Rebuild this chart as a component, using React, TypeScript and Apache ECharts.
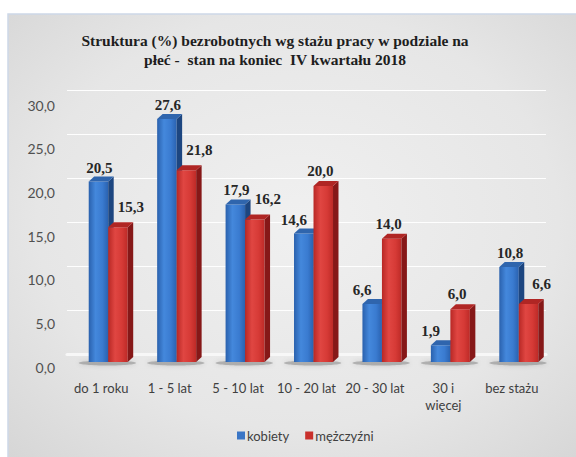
import React, { useEffect, useRef } from "react";
import * as echarts from "echarts";

const categories = ["do 1 roku", "1 - 5 lat", "5 - 10 lat", "10 - 20 lat", "20 - 30 lat", "30 i więcej", "bez stażu"];
const kobiety = [20.5, 27.6, 17.9, 14.6, 6.6, 1.9, 10.8];
const mezczyzni = [15.3, 21.8, 16.2, 20.0, 14.0, 6.0, 6.6];
const seriesNames = ["kobiety", "mężczyźni"];
const yMin = 0;
const yMax = 30;
const yStep = 5;
const titleText = "Struktura (%) bezrobotnych wg stażu pracy w podziale na\npłeć -  stan na koniec  IV kwartału 2018";

const fmt = (v: number) => v.toFixed(1).replace(".", ",");

const palettes = [
  {
    legend: "#3a76c6",
    front: ["#2a61ad", "#4488dc", "#3a7bd0", "#2a62b0"],
    side: "#1d4680",
    top: "#2f65ad",
  },
  {
    legend: "#c9302c",
    front: ["#b82825", "#e04642", "#d63a36", "#bd2a27"],
    side: "#861818",
    top: "#b02624",
  },
];

function makeRender(sIdx: number) {
  const own = sIdx === 0 ? kobiety : mezczyzni;
  const other = sIdx === 0 ? mezczyzni : kobiety;
  const pal = palettes[sIdx];
  return (params: any, api: any) => {
    const idx = api.value(0);
    const v = api.value(1);
    const base = api.coord([idx, 0]);
    const topPt = api.coord([idx, v]);
    const band = api.size([1, 0])[0];
    const FRONT = 8;
    const baseY = base[1] + FRONT;
    const topY = topPt[1] + FRONT;
    const w = band * 0.285;
    const x0 = base[0] - band * 0.1825 + sIdx * w;
    const x1 = x0 + w;
    const dx = band * 0.08;
    const dy = 5;
    const children: any[] = [];
    if (sIdx === 0) {
      children.push({
        type: "ellipse",
        shape: { cx: base[0] + band * 0.09, cy: baseY + 1, rx: band * 0.42, ry: 2.5 },
        style: { fill: "rgba(90,90,90,0.35)", shadowBlur: 5, shadowColor: "rgba(0,0,0,0.4)" },
        silent: true,
      });
    }
    children.push({
      type: "rect",
      shape: { x: x0, y: topY, width: w, height: baseY - topY },
      style: {
        fill: {
          type: "linear", x: 0, y: 0, x2: 1, y2: 0,
          colorStops: [
            { offset: 0, color: pal.front[0] },
            { offset: 0.35, color: pal.front[1] },
            { offset: 0.7, color: pal.front[2] },
            { offset: 1, color: pal.front[3] },
          ],
        },
      },
    });
    children.push({
      type: "polygon",
      shape: { points: [[x1, topY], [x1 + dx, topY - dy], [x1 + dx, baseY - dy], [x1, baseY]] },
      style: { fill: pal.side },
    });
    children.push({
      type: "polygon",
      shape: { points: [[x0, topY], [x1, topY], [x1 + dx, topY - dy], [x0 + dx, topY - dy]] },
      style: { fill: pal.top },
    });
    const cx = x0 + w / 2;
    const o = other[idx];
    let lx: number;
    let ly: number;
    if (sIdx === 0) {
      lx = cx + (v >= o ? 1 : -10);
      ly = topY - 14;
    } else {
      lx = cx + (v < o ? 13 : -3);
      ly = topY - (v < o ? 20 : 15);
    }
    children.push({
      type: "text",
      style: {
        text: fmt(own[idx]),
        x: lx,
        y: ly,
        align: "center",
        verticalAlign: "middle",
        fontFamily: "Liberation Serif",
        fontWeight: "bold",
        fontSize: 15,
        fill: "#262626",
      },
    });
    return { type: "group", children };
  };
}

export default function App() {
  const ref = useRef<HTMLDivElement>(null);
  useEffect(() => {
    if (!ref.current) return;
    const chart = echarts.init(ref.current, undefined, { renderer: "svg" });
    chart.setOption({
      animation: false,
      backgroundColor: "#ffffff",
      graphic: [
        {
          type: "rect",
          z: -100,
          silent: true,
          shape: { x: 8, y: 14, width: 580, height: 460 },
          style: {
            fill: {
              type: "radial", x: 0.5, y: 0.45, r: 0.75,
              colorStops: [
                { offset: 0, color: "#f0f0f0" },
                { offset: 0.6, color: "#e6e6e6" },
                { offset: 1, color: "#d4d4d4" },
              ],
            },
            stroke: "#cdd8e8",
            lineWidth: 1.5,
          },
        },
      ],
      title: {
        text: titleText,
        left: 270,
        top: 26,
        textAlign: "center",
        textStyle: {
          fontFamily: "Liberation Serif",
          fontWeight: "bold",
          fontSize: 15.5,
          color: "#1e1e1e",
          lineHeight: 19,
        },
      },
      legend: {
        data: seriesNames,
        left: 232,
        top: 424,
        icon: "rect",
        itemWidth: 8,
        itemHeight: 8,
        itemGap: 16,
        textStyle: { fontFamily: "Lato", fontSize: 13, color: "#404040", padding: [0, 0, 0, -3] },
      },
      grid: [
        { left: 67, right: 30, top: 90, bottom: 103 },
        { left: 67, right: 30, top: 105, bottom: 90 },
      ],
      xAxis: [
        {
          type: "category",
          gridIndex: 0,
          data: categories,
          offset: 8,
          axisLine: { show: true, lineStyle: { color: "#f7f7f7", width: 3 } },
          axisTick: { show: false },
          axisLabel: { show: false },
        },
        {
          type: "category",
          gridIndex: 1,
          data: categories,
          axisLine: { show: false },
          axisTick: { show: false },
          axisLabel: {
            interval: 0,
            margin: 12,
            fontFamily: "Lato",
            fontSize: 13,
            lineHeight: 17,
            color: "#404040",
            formatter: (v: string) => v.replace("30 i ", "30 i\n"),
          },
        },
      ],
      yAxis: [
        {
          type: "value",
          gridIndex: 0,
          min: yMin,
          max: yMax,
          interval: yStep,
          axisLine: { show: false },
          axisTick: { show: false },
          axisLabel: { show: false },
          splitLine: { show: true, lineStyle: { color: "rgba(255,255,255,0.95)", width: 1 } },
        },
        {
          type: "value",
          gridIndex: 1,
          min: yMin,
          max: yMax,
          interval: yStep,
          axisLine: { show: false },
          axisTick: { show: false },
          splitLine: { show: false },
          axisLabel: {
            margin: 12,
            fontFamily: "Lato",
            fontSize: 14,
            color: "#505050",
            formatter: (v: number) => fmt(v),
          },
        },
      ],
      series: [kobiety, mezczyzni].map((arr, sIdx) => ({
        type: "custom",
        name: seriesNames[sIdx],
        xAxisIndex: 0,
        yAxisIndex: 0,
        itemStyle: { color: palettes[sIdx].legend },
        encode: { x: 0, y: 1 },
        data: arr.map((v, i) => [i, v]),
        renderItem: makeRender(sIdx),
        z: 2 + sIdx,
      })),
    });
    return () => chart.dispose();
  }, []);
  return (
    <div
      ref={ref}
      style={{ position: "absolute", left: 0, top: 0, width: 576, height: 457 }}
    />
  );
}
